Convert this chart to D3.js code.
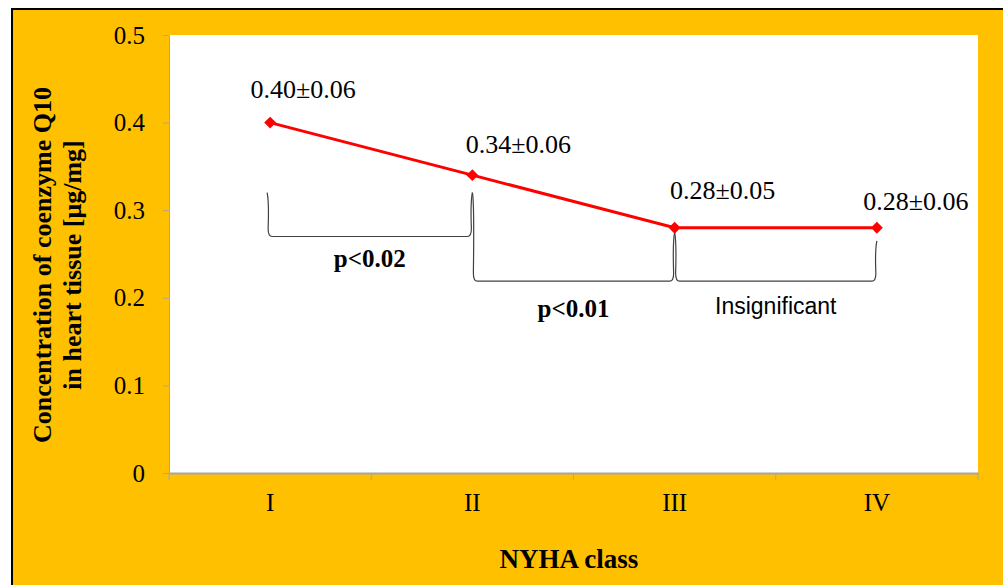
<!DOCTYPE html>
<html>
<head>
<meta charset="utf-8">
<script src="https://cdn.jsdelivr.net/npm/d3@7"></script>
<style>
  body { margin: 0; background: #fff; }
  svg { display: block; }
</style>
</head>
<body>
<svg id="chart" width="1003" height="585"></svg>
<script>
const classes = ["I", "II", "III", "IV"];
const concentration = [0.40, 0.34, 0.28, 0.28];
const valueLabels = ["0.40±0.06", "0.34±0.06", "0.28±0.05", "0.28±0.06"];
const yTicks = [0, 0.1, 0.2, 0.3, 0.4, 0.5];

// significance brackets: from class, to class, top of left arm, top of right arm, bottom
const bracketFrom = ["I", "II", "III"];
const bracketTo = ["II", "III", "IV"];
const bracketTopLeft = [0.32, 0.32, 0.275];
const bracketTopRight = [0.32, 0.275, 0.265];
const bracketBottom = [0.27, 0.219, 0.219];
const bracketLabels = ["p<0.02", "p<0.01", "Insignificant"];

const svg = d3.select("#chart");
const width = +svg.attr("width");
const height = +svg.attr("height");
const margin = { top: 35, right: 25, bottom: 112, left: 169 };
const serif = "Liberation Serif, Times New Roman, serif";

// orange frame
svg.append("rect")
    .attr("x", 12).attr("y", 9)
    .attr("width", width).attr("height", height)
    .attr("fill", "#FFC000")
    .attr("stroke", "#000")
    .attr("stroke-width", 2);

const chartWidth = width - margin.left - margin.right;
const chartHeight = height - margin.top - margin.bottom;

const x = d3.scaleBand()
    .domain(classes)
    .range([0, chartWidth]);

const y = d3.scaleLinear()
    .domain([0, 0.5])
    .range([chartHeight, 0]);

const g = svg.append("g")
    .attr("transform", `translate(${margin.left},${margin.top})`);

g.append("rect")
    .attr("width", chartWidth)
    .attr("height", chartHeight)
    .attr("fill", "#fff");

const cx = c => x(c) + x.bandwidth() / 2;

// axes
const yAxis = g.append("g")
    .call(d3.axisLeft(y).tickValues(yTicks).tickSize(6).tickPadding(18)
        .tickFormat(d => d === 0 ? "0" : d3.format(".1f")(d)));
yAxis.select(".domain").attr("stroke", "#a6a6a6");
yAxis.selectAll(".tick line").attr("stroke", "#a6a6a6");
yAxis.selectAll("text")
    .attr("font-family", serif)
    .attr("font-size", 25)
    .attr("fill", "#000");

const xAxis = g.append("g")
    .attr("transform", `translate(0,${chartHeight})`)
    .call(d3.axisBottom(x).tickSize(0).tickPadding(20));
xAxis.select(".domain").attr("stroke", "#a6a6a6").attr("stroke-width", 2);
xAxis.selectAll("text")
    .attr("font-family", serif)
    .attr("font-size", 25)
    .attr("fill", "#000");

// category separators on the x axis
g.append("g")
    .selectAll("line")
    .data(classes.concat(["end"]))
    .join("line")
    .attr("x1", (d, i) => i * x.bandwidth())
    .attr("x2", (d, i) => i * x.bandwidth())
    .attr("y1", chartHeight)
    .attr("y2", chartHeight + 7)
    .attr("stroke", "#a6a6a6");

// axis titles
const yTitle = svg.append("text")
    .attr("transform", `translate(51,265) rotate(-90)`)
    .attr("text-anchor", "middle")
    .attr("font-family", serif)
    .attr("font-weight", "bold")
    .attr("font-size", 26);
yTitle.append("tspan").attr("x", 0).attr("dy", 0).text("Concentration of coenzyme Q10");
yTitle.append("tspan").attr("x", 0).attr("dy", 30).text("in heart tissue [μg/mg]");

svg.append("text")
    .attr("x", 569)
    .attr("y", 568)
    .attr("text-anchor", "middle")
    .attr("font-family", serif)
    .attr("font-weight", "bold")
    .attr("font-size", 27)
    .text("NYHA class");

// brackets
const brackets = bracketFrom.map((f, i) => ({
    x1: cx(f) - (i === 0 ? 3 : 0),
    x2: cx(bracketTo[i]),
    t1: y(bracketTopLeft[i]),
    t2: y(bracketTopRight[i]),
    b: y(bracketBottom[i]),
    label: bracketLabels[i]
}));

g.selectAll(".bracket")
    .data(brackets)
    .join("path")
    .attr("class", "bracket")
    .attr("fill", "none")
    .attr("stroke", "#404040")
    .attr("stroke-width", 1.2)
    .attr("d", d => `M${d.x1},${d.t1} Q${d.x1 + 2},${d.t1 + 10} ${d.x1 + 1},${d.b - 8}`
        + ` Q${d.x1 + 1},${d.b} ${d.x1 + 5},${d.b} L${d.x2 - 5},${d.b}`
        + ` Q${d.x2 - 1},${d.b} ${d.x2 - 1},${d.b - 8} Q${d.x2 - 2},${d.t2 + 10} ${d.x2},${d.t2}`);

const labelOffset = [31, 36, 33];
g.selectAll(".blabel")
    .data(brackets)
    .join("text")
    .attr("class", "blabel")
    .attr("x", d => (d.x1 + d.x2) / 2)
    .attr("y", (d, i) => d.b + labelOffset[i])
    .attr("text-anchor", "middle")
    .attr("font-family", d => d.label === "Insignificant" ? "Liberation Sans, Arial, sans-serif" : serif)
    .attr("font-weight", d => d.label === "Insignificant" ? "normal" : "bold")
    .attr("font-size", d => d.label === "Insignificant" ? 23 : 25)
    .attr("fill", "#000")
    .text(d => d.label);

// line and markers
const points = classes.map((c, i) => ({ c, v: concentration[i], label: valueLabels[i] }));

g.append("path")
    .datum(points)
    .attr("fill", "none")
    .attr("stroke", "#ff0000")
    .attr("stroke-width", 3)
    .attr("d", d3.line().x(d => cx(d.c)).y(d => y(d.v)));

g.selectAll(".marker")
    .data(points)
    .join("path")
    .attr("class", "marker")
    .attr("transform", d => `translate(${cx(d.c)},${y(d.v)})`)
    .attr("d", d3.symbol(d3.symbolDiamond2, 90))
    .attr("fill", "#ff0000");

// value labels
const labelDx = [33, 46, 48, 39];
const labelDy = [-25, -22, -29, -18];
g.selectAll(".vlabel")
    .data(points)
    .join("text")
    .attr("class", "vlabel")
    .attr("x", (d, i) => cx(d.c) + labelDx[i])
    .attr("y", (d, i) => y(d.v) + labelDy[i])
    .attr("text-anchor", "middle")
    .attr("font-family", serif)
    .attr("font-size", 26)
    .attr("fill", "#000")
    .text(d => d.label);
</script>
</body>
</html>
